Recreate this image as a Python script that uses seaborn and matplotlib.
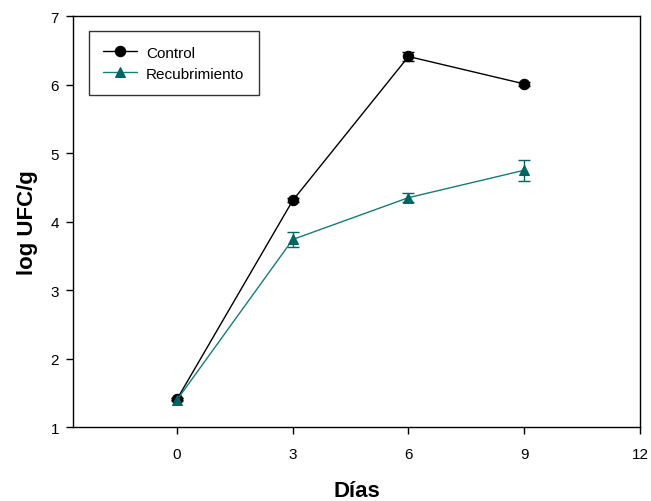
import matplotlib
matplotlib.use("Agg")
import matplotlib.pyplot as plt
import seaborn as sns
import pandas as pd

dias = [0, 3, 6, 9]
control = [1.41, 4.31, 6.41, 6.01]
control_err = [0.02, 0.03, 0.07, 0.03]
recub = [1.40, 3.74, 4.35, 4.75]
recub_err = [0.02, 0.11, 0.07, 0.15]
series_names = ["Control", "Recubrimiento"]
x_ticks = [0, 3, 6, 9, 12]
y_ticks = [1, 2, 3, 4, 5, 6, 7]

sns.set_theme(style="ticks")
plt.rcParams["font.family"] = ["Liberation Sans", "DejaVu Sans"]
plt.rcParams["text.color"] = "black"
plt.rcParams["axes.labelcolor"] = "black"

df = pd.DataFrame({
    "Días": dias * 2,
    "val": control + recub,
    "err": control_err + recub_err,
    "serie": [series_names[0]] * 4 + [series_names[1]] * 4,
})

fig = plt.figure(figsize=(6.51, 5.02), dpi=100)
ax = fig.add_axes([0.112, 0.147, 0.871, 0.819])

colors = {"Control": "black", "Recubrimiento": "#1a7a78"}
mcolors = {"Control": "black", "Recubrimiento": "#006460"}
markers = {"Control": "o", "Recubrimiento": "^"}

for name in series_names:
    sub = df[df["serie"] == name]
    ax.errorbar(sub["Días"], sub["val"], yerr=sub["err"], fmt="none",
                ecolor=mcolors[name], elinewidth=1.0, capsize=4, capthick=1.0, zorder=2)
    sns.lineplot(x=sub["Días"], y=sub["val"], ax=ax, color=colors[name],
                 linewidth=1.0, marker=markers[name], markersize=7.5,
                 markerfacecolor=mcolors[name], markeredgecolor=mcolors[name],
                 label=name, zorder=3)

ax.set_xlim(-2.7, 12)
ax.set_ylim(1, 7)
ax.set_xticks(x_ticks)
ax.set_yticks(y_ticks)
ax.tick_params(axis="both", labelsize=11, direction="out", length=5, width=1, colors="black")
ax.tick_params(axis="x", pad=9)
ax.tick_params(axis="y", pad=5)
for s in ax.spines.values():
    s.set_linewidth(1.0)
    s.set_color("black")

ax.set_xlabel("Días", fontsize=16, fontweight="bold", labelpad=14, color="black")
ax.set_ylabel("log UFC/g", fontsize=16, fontweight="bold", labelpad=9, color="black")

leg = ax.legend(loc="upper left", bbox_to_anchor=(0.028, 0.963), fontsize=11,
                frameon=True, fancybox=False, edgecolor="black", borderpad=0.95,
                borderaxespad=0, handlelength=2.2, handletextpad=0.6,
                labelspacing=0.45)
leg.get_frame().set_linewidth(1.0)

fig.savefig("out.png", dpi=100)
